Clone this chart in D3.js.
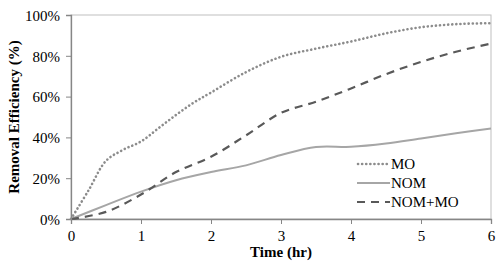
<!DOCTYPE html>
<html>
<head>
<meta charset="utf-8">
<script src="https://cdn.jsdelivr.net/npm/d3@7"></script>
<style>
  body { margin: 0; background: #fff; }
</style>
</head>
<body>
<div id="chart"></div>
<script>
// hours sampled along each curve
const times = [0, 0.5, 1, 1.5, 2, 2.5, 3, 3.5, 4, 4.5, 5, 5.5, 6];
const moTimes = [0, 0.25, 0.5, 0.75, 1, 1.25, 1.5, 1.75, 2, 2.5, 3, 3.5, 4, 4.5, 5, 5.5, 6];
const moValues = [0, 14, 28.5, 34, 38, 44.5, 51, 57, 62, 72, 79.5, 83.5, 87, 91, 94, 95.5, 96];
const nomValues = [0, 6.8, 13.4, 19, 23, 26.3, 31.4, 35.3, 35.4, 37, 39.5, 42, 44.4];
const nomMoValues = [0, 3.5, 12, 23, 30.5, 41, 52, 57.5, 64, 71, 77, 82, 86];
const xTicks = [0, 1, 2, 3, 4, 5, 6];
const yTicks = [0, 20, 40, 60, 80, 100];
const seriesNames = ['MO', 'NOM', 'NOM+MO'];

const W = 500, H = 266;
const margin = {top: 15, right: 9, bottom: 47, left: 71};
const width = W - margin.left - margin.right;
const height = H - margin.top - margin.bottom;
const serif = '"Liberation Serif"';

const svg = d3.select('#chart').append('svg')
    .attr('width', W)
    .attr('height', H);

const g = svg.append('g')
    .attr('transform', `translate(${margin.left},${margin.top})`);

const x = d3.scaleLinear().domain([0, 6]).range([0, width]);
const y = d3.scaleLinear().domain([0, 100]).range([height, 0]);

// plot border (top/right light grey)
g.append('rect')
    .attr('x', 0).attr('y', 0)
    .attr('width', width).attr('height', height)
    .style('fill', 'none')
    .style('stroke', '#bfbfbf')
    .style('stroke-width', 1);

// axes
const xAxis = g.append('g')
    .attr('transform', `translate(0,${height})`)
    .call(d3.axisBottom(x).tickValues(xTicks).tickSize(5).tickPadding(6).tickFormat(d3.format('d')));

const yAxis = g.append('g')
    .call(d3.axisLeft(y).tickValues(yTicks).tickSize(5).tickPadding(6).tickFormat(d => d + '%'));

[xAxis, yAxis].forEach(a => {
    a.attr('font-family', null).attr('font-size', null);
    a.select('.domain').style('stroke', '#868686').style('stroke-width', 1.3);
    a.selectAll('.tick line').style('stroke', '#868686');
    a.selectAll('text')
        .style('font-family', serif)
        .style('font-size', '15px')
        .style('fill', '#000');
});
yAxis.selectAll('text').attr('dy', '0.35em');

// lines
const line = (ts) => d3.line()
    .x((d, i) => x(ts[i]))
    .y(d => y(d))
    .curve(d3.curveCatmullRom);

const styles = [
    {color: '#8c8c8c', dash: '0.1,4', w: 2.6, cap: 'round'},
    {color: '#a6a6a6', dash: null, w: 2, cap: 'butt'},
    {color: '#595959', dash: '8,6', w: 2.2, cap: 'butt'}
];

const data = [
    {ts: moTimes, vals: moValues},
    {ts: times, vals: nomValues},
    {ts: times, vals: nomMoValues}
];

// draw NOM first, then NOM+MO, then MO
[1, 2, 0].forEach(i => {
    g.append('path')
        .datum(data[i].vals)
        .attr('d', line(data[i].ts))
        .style('fill', 'none')
        .style('stroke', styles[i].color)
        .style('stroke-width', styles[i].w)
        .style('stroke-linecap', styles[i].cap)
        .style('stroke-dasharray', styles[i].dash);
});

// legend
const legend = g.append('g')
    .attr('transform', `translate(${357 - margin.left}, ${164 - margin.top})`);

seriesNames.forEach((name, i) => {
    legend.append('line')
        .attr('x1', i === 0 ? 1 : 0).attr('x2', 33)
        .attr('y1', i * 19).attr('y2', i * 19)
        .style('stroke', styles[i].color)
        .style('stroke-width', styles[i].w)
        .style('stroke-linecap', styles[i].cap)
        .style('stroke-dasharray', styles[i].dash);

    legend.append('text')
        .attr('x', 34)
        .attr('y', i * 19)
        .attr('dy', '0.35em')
        .style('font-family', serif)
        .style('font-size', '15px')
        .text(name);
});

// axis titles
svg.append('text')
    .attr('x', margin.left + width / 2)
    .attr('y', 257)
    .attr('text-anchor', 'middle')
    .style('font-family', serif)
    .style('font-size', '15px')
    .style('font-weight', 'bold')
    .text('Time (hr)');

svg.append('text')
    .attr('transform', `translate(19,${margin.top + height / 2}) rotate(-90)`)
    .attr('text-anchor', 'middle')
    .style('font-family', serif)
    .style('font-size', '15px')
    .style('font-weight', 'bold')
    .text('Removal Efficiency (%)');
</script>
</body>
</html>
